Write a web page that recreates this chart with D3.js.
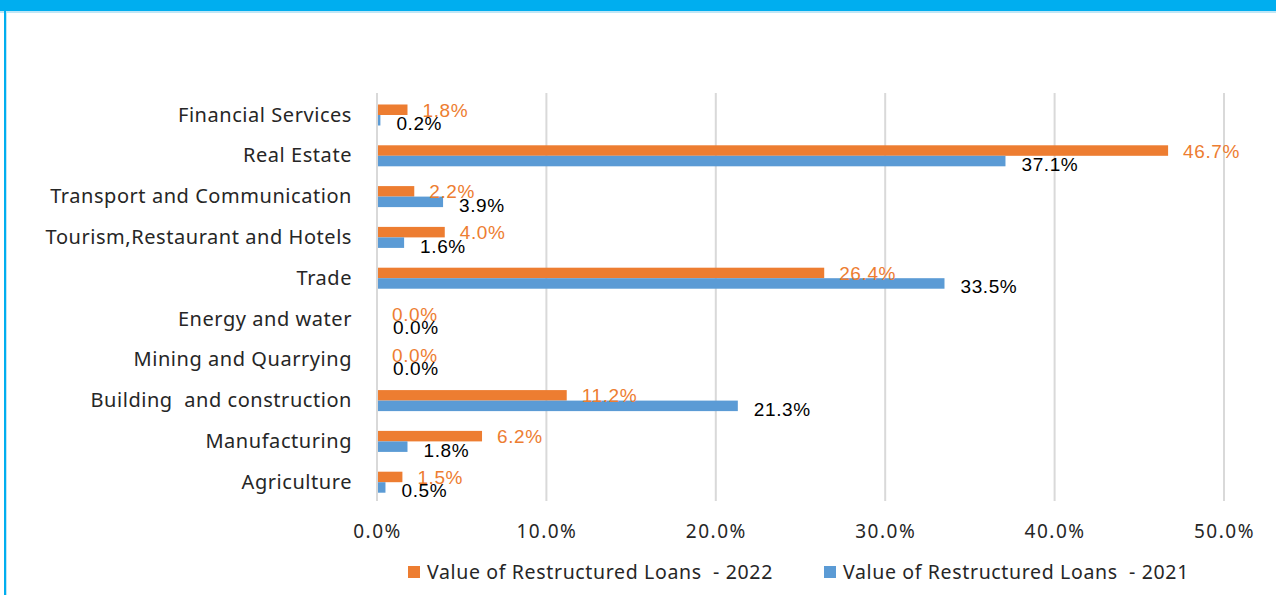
<!DOCTYPE html>
<html>
<head>
<meta charset="utf-8">
<style>
  body { margin: 0; background: #fff; }
  .cat text { font-family: "Noto Sans", sans-serif; font-size: 20px; letter-spacing: 0.55px; fill: #262626; }
  .xaxis text { font-family: "Noto Sans", sans-serif; font-size: 19px; letter-spacing: 1.5px; fill: #262626; }
  .lbl { font-family: "Liberation Sans", Arial, sans-serif; font-size: 19px; letter-spacing: 0.6px; }
  .legend text { font-family: "Noto Sans", sans-serif; font-size: 19.5px; letter-spacing: 0.65px; fill: #262626; white-space: pre; }
</style>
<script src="https://d3js.org/d3.v7.min.js"></script>
</head>
<body>
<script>
const categories = ["Financial Services", "Real Estate", "Transport and Communication",
  "Tourism,Restaurant and Hotels", "Trade", "Energy and water", "Mining and Quarrying",
  "Building  and construction", "Manufacturing", "Agriculture"];
const values2022 = [1.8, 46.7, 2.2, 4.0, 26.4, 0.0, 0.0, 11.2, 6.2, 1.5];
const values2021 = [0.2, 37.1, 3.9, 1.6, 33.5, 0.0, 0.0, 21.3, 1.8, 0.5];
const xTicks = [0, 10, 20, 30, 40, 50];
const seriesNames = ["Value of Restructured Loans  - 2022", "Value of Restructured Loans  - 2021"];
const colors = ["#ED7D31", "#5B9BD5"];

const w = 1276, h = 595;
const svg = d3.select("body").append("svg").attr("width", w).attr("height", h);

// frame / banner
svg.append("rect").attr("x", 0).attr("y", 0).attr("width", w).attr("height", 11).attr("fill", "#00AEEF");
svg.append("rect").attr("x", 0).attr("y", 11).attr("width", w).attr("height", 2).attr("fill", "#BFE6F6");
svg.append("rect").attr("x", 4).attr("y", 11).attr("width", 2).attr("height", h - 11).attr("fill", "#00AEEF");
svg.append("rect").attr("x", 6).attr("y", 13).attr("width", 1).attr("height", h - 13).attr("fill", "#BFE6F6");

const x = d3.scaleLinear().domain([0, 50]).range([377, 1224]);
const y = d3.scaleBand().domain(categories).range([94.6, 502.6])
  .paddingInner(0.485).paddingOuter(0.2425);
const ys = d3.scaleBand().domain([0, 1]).range([0, y.bandwidth()]);

// gridlines
svg.append("g").selectAll("line").data(xTicks).join("line")
  .attr("x1", d => x(d)).attr("x2", d => x(d))
  .attr("y1", 93).attr("y2", 501)
  .attr("stroke", "#D9D9D9").attr("stroke-width", 2);

const series = [values2022, values2021];

series.forEach((vals, s) => {
  svg.append("g").selectAll("rect").data(categories).join("rect")
    .attr("x", x(0))
    .attr("y", d => y(d) + ys(s))
    .attr("width", (d, i) => x(vals[i]) - x(0))
    .attr("height", ys.bandwidth())
    .attr("fill", colors[s]);
});

// data labels
svg.append("g").selectAll("text").data(categories).join("text")
  .attr("class", "lbl")
  .attr("x", (d, i) => x(values2022[i]) + 15)
  .attr("y", d => y(d) + ys(0) + ys.bandwidth() / 2 + 7)
  .attr("fill", colors[0])
  .text((d, i) => values2022[i].toFixed(1) + "%");

svg.append("g").selectAll("text").data(categories).join("text")
  .attr("class", "lbl")
  .attr("x", (d, i) => x(values2021[i]) + 16)
  .attr("y", d => y(d) + ys(1) + ys.bandwidth() / 2 + 10)
  .attr("fill", "#000")
  .text((d, i) => values2021[i].toFixed(1) + "%");

// category axis
const yAxis = svg.append("g").attr("class", "cat")
  .attr("transform", "translate(377,0)")
  .call(d3.axisLeft(y).tickSize(0).tickPadding(25));
yAxis.select(".domain").remove();
yAxis.selectAll("text").attr("dy", "0.33em").style("white-space", "pre");
svg.append("line").attr("x1", 377).attr("x2", 377).attr("y1", 93).attr("y2", 501)
  .attr("stroke", "#D9D9D9").attr("stroke-width", 2);

// value axis
const xAxis = svg.append("g").attr("class", "xaxis")
  .attr("transform", "translate(0,513)")
  .call(d3.axisBottom(x).tickValues(xTicks).tickSize(0).tickPadding(12)
    .tickFormat(d => d.toFixed(1) + "%"));
xAxis.select(".domain").remove();
xAxis.selectAll("text").attr("dy", "0.7em");

// legend
const legendX = [408, 824];
const legend = svg.append("g").attr("class", "legend");
seriesNames.forEach((name, i) => {
  legend.append("rect").attr("x", legendX[i]).attr("y", 566).attr("width", 12).attr("height", 12)
    .attr("fill", colors[i]);
  legend.append("text").attr("x", legendX[i] + 19).attr("y", 579).text(name);
});
</script>
</body>
</html>
